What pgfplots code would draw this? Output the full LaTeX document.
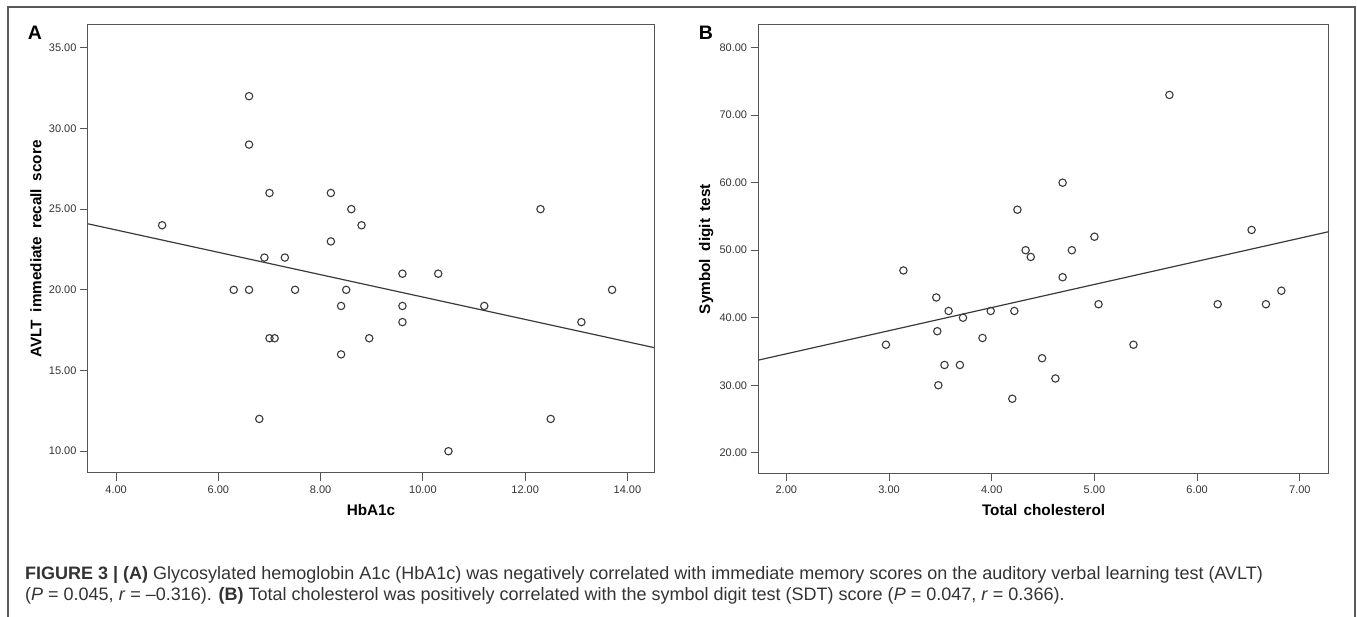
\documentclass[border=0pt]{standalone}
\usepackage{fontspec}
\setmainfont{Liberation Sans}
\usepackage{pgfplots}
\pgfplotsset{compat=1.18}
\definecolor{framegray}{HTML}{5A5A5A}
\definecolor{axgray}{HTML}{555555}
\definecolor{markgray}{HTML}{3A3A3A}
\definecolor{txtgray}{HTML}{333333}

\pgfplotsset{spss/.style={
  scale only axis, height=448pt,
  axis line style={axgray, line width=1pt},
  tick align=outside, major tick length=8pt, tick pos=left,
  tick style={axgray, line width=1pt},
  ticklabel style={font=\fontsize{11}{12}\selectfont, text=txtgray},
  xticklabel style={yshift=-1pt},
  /pgf/number format/.cd, fixed, fixed zerofill, precision=2, assume math mode=true,
  /pgfplots/.cd,
  label style={font=\bfseries\fontsize{15.3}{17}\selectfont, text=black},
  xlabel style={at={(axis description cs:0.5,-0.083)}, anchor=center},
  ylabel style={at={(axis description cs:-0.092,0.5)}, anchor=center},
  anchor=south west,
}}
\pgfplotsset{pts/.style={only marks, mark=o, mark size=3.7pt,
  mark options={draw=markgray, line width=1.1pt}}}
\pgfplotsset{fit/.style={no marks, draw=markgray, line width=1.2pt}}

\begin{document}
\begin{tikzpicture}[x=1pt,y=1pt]
\useasboundingbox (0,0) rectangle (1357,616);
\draw[framegray, line width=1.2pt] (8,-5) -- (8,609) -- (1355,609) -- (1355,-5);

% panel A
\begin{axis}[spss, at={(88pt,143pt)}, width=566pt,
  xmin=3.45, xmax=14.52, ymin=8.65, ymax=36.41,
  xtick={4,6,...,14}, ytick={10,15,...,35},
  xlabel={HbA1c},
  ylabel={AVLT\hspace{0.5em}immediate\hspace{0.5em}recall\hspace{0.5em}score}]
\addplot[pts] coordinates {
 (4.9,24) (6.6,32) (6.6,29) (7.0,26) (8.2,26) (8.6,25) (8.8,24) (12.3,25)
 (8.2,23) (6.9,22) (7.3,22) (9.6,21) (10.3,21) (6.3,20) (6.6,20) (7.5,20)
 (8.5,20) (13.7,20) (8.4,19) (9.6,19) (11.2,19) (9.6,18) (13.1,18)
 (7.0,17) (7.1,17) (8.95,17) (8.4,16) (6.8,12) (12.5,12) (10.5,10)};
\addplot[fit] coordinates {(3.45,24.09) (14.52,16.42)};
\end{axis}

% panel B
\begin{axis}[spss, at={(758.6pt,143pt)}, width=570pt,
  xmin=1.73, xmax=7.28, ymin=17.0, ymax=83.36,
  xtick={2,3,...,7}, ytick={20,30,...,80},
  xlabel={Total\hspace{0.4em}cholesterol},
  ylabel={Symbol\hspace{0.5em}digit\hspace{0.5em}test}]
\addplot[pts] coordinates {
 (5.73,73) (4.69,60) (4.25,56) (6.53,53) (5.0,52) (4.33,50) (4.78,50)
 (4.38,49) (3.14,47) (4.69,46) (6.82,44) (3.46,43) (5.04,42) (6.20,42)
 (6.67,42) (3.58,41) (3.99,41) (4.22,41) (3.72,40) (3.47,38) (3.91,37)
 (2.97,36) (5.38,36) (4.49,34) (3.54,33) (3.69,33) (4.62,31) (3.48,30)
 (4.20,28)};
\addplot[fit] coordinates {(1.73,33.73) (7.28,52.74)};
\end{axis}

\node[font=\bfseries\fontsize{19.5}{20}\selectfont] at (35,583) {A};
\node[font=\bfseries\fontsize{19.5}{20}\selectfont] at (706,583) {B};

\node[anchor=base west, text=txtgray, font=\fontsize{18}{20}\selectfont, inner sep=0]
  at (25,37) {\textbf{FIGURE 3 | (A)} Glycosylated hemoglobin A1c (HbA1c) was negatively correlated with immediate memory scores on the auditory verbal learning test (AVLT)};
\node[anchor=base west, text=txtgray, font=\fontsize{18}{20}\selectfont, inner sep=0]
  at (25,16) {(\textit{P} = 0.045, \textit{r} = –0.316). \textbf{(B)} Total cholesterol was positively correlated with the symbol digit test (SDT) score (\textit{P} = 0.047, \textit{r} = 0.366).};
\end{tikzpicture}
\end{document}
